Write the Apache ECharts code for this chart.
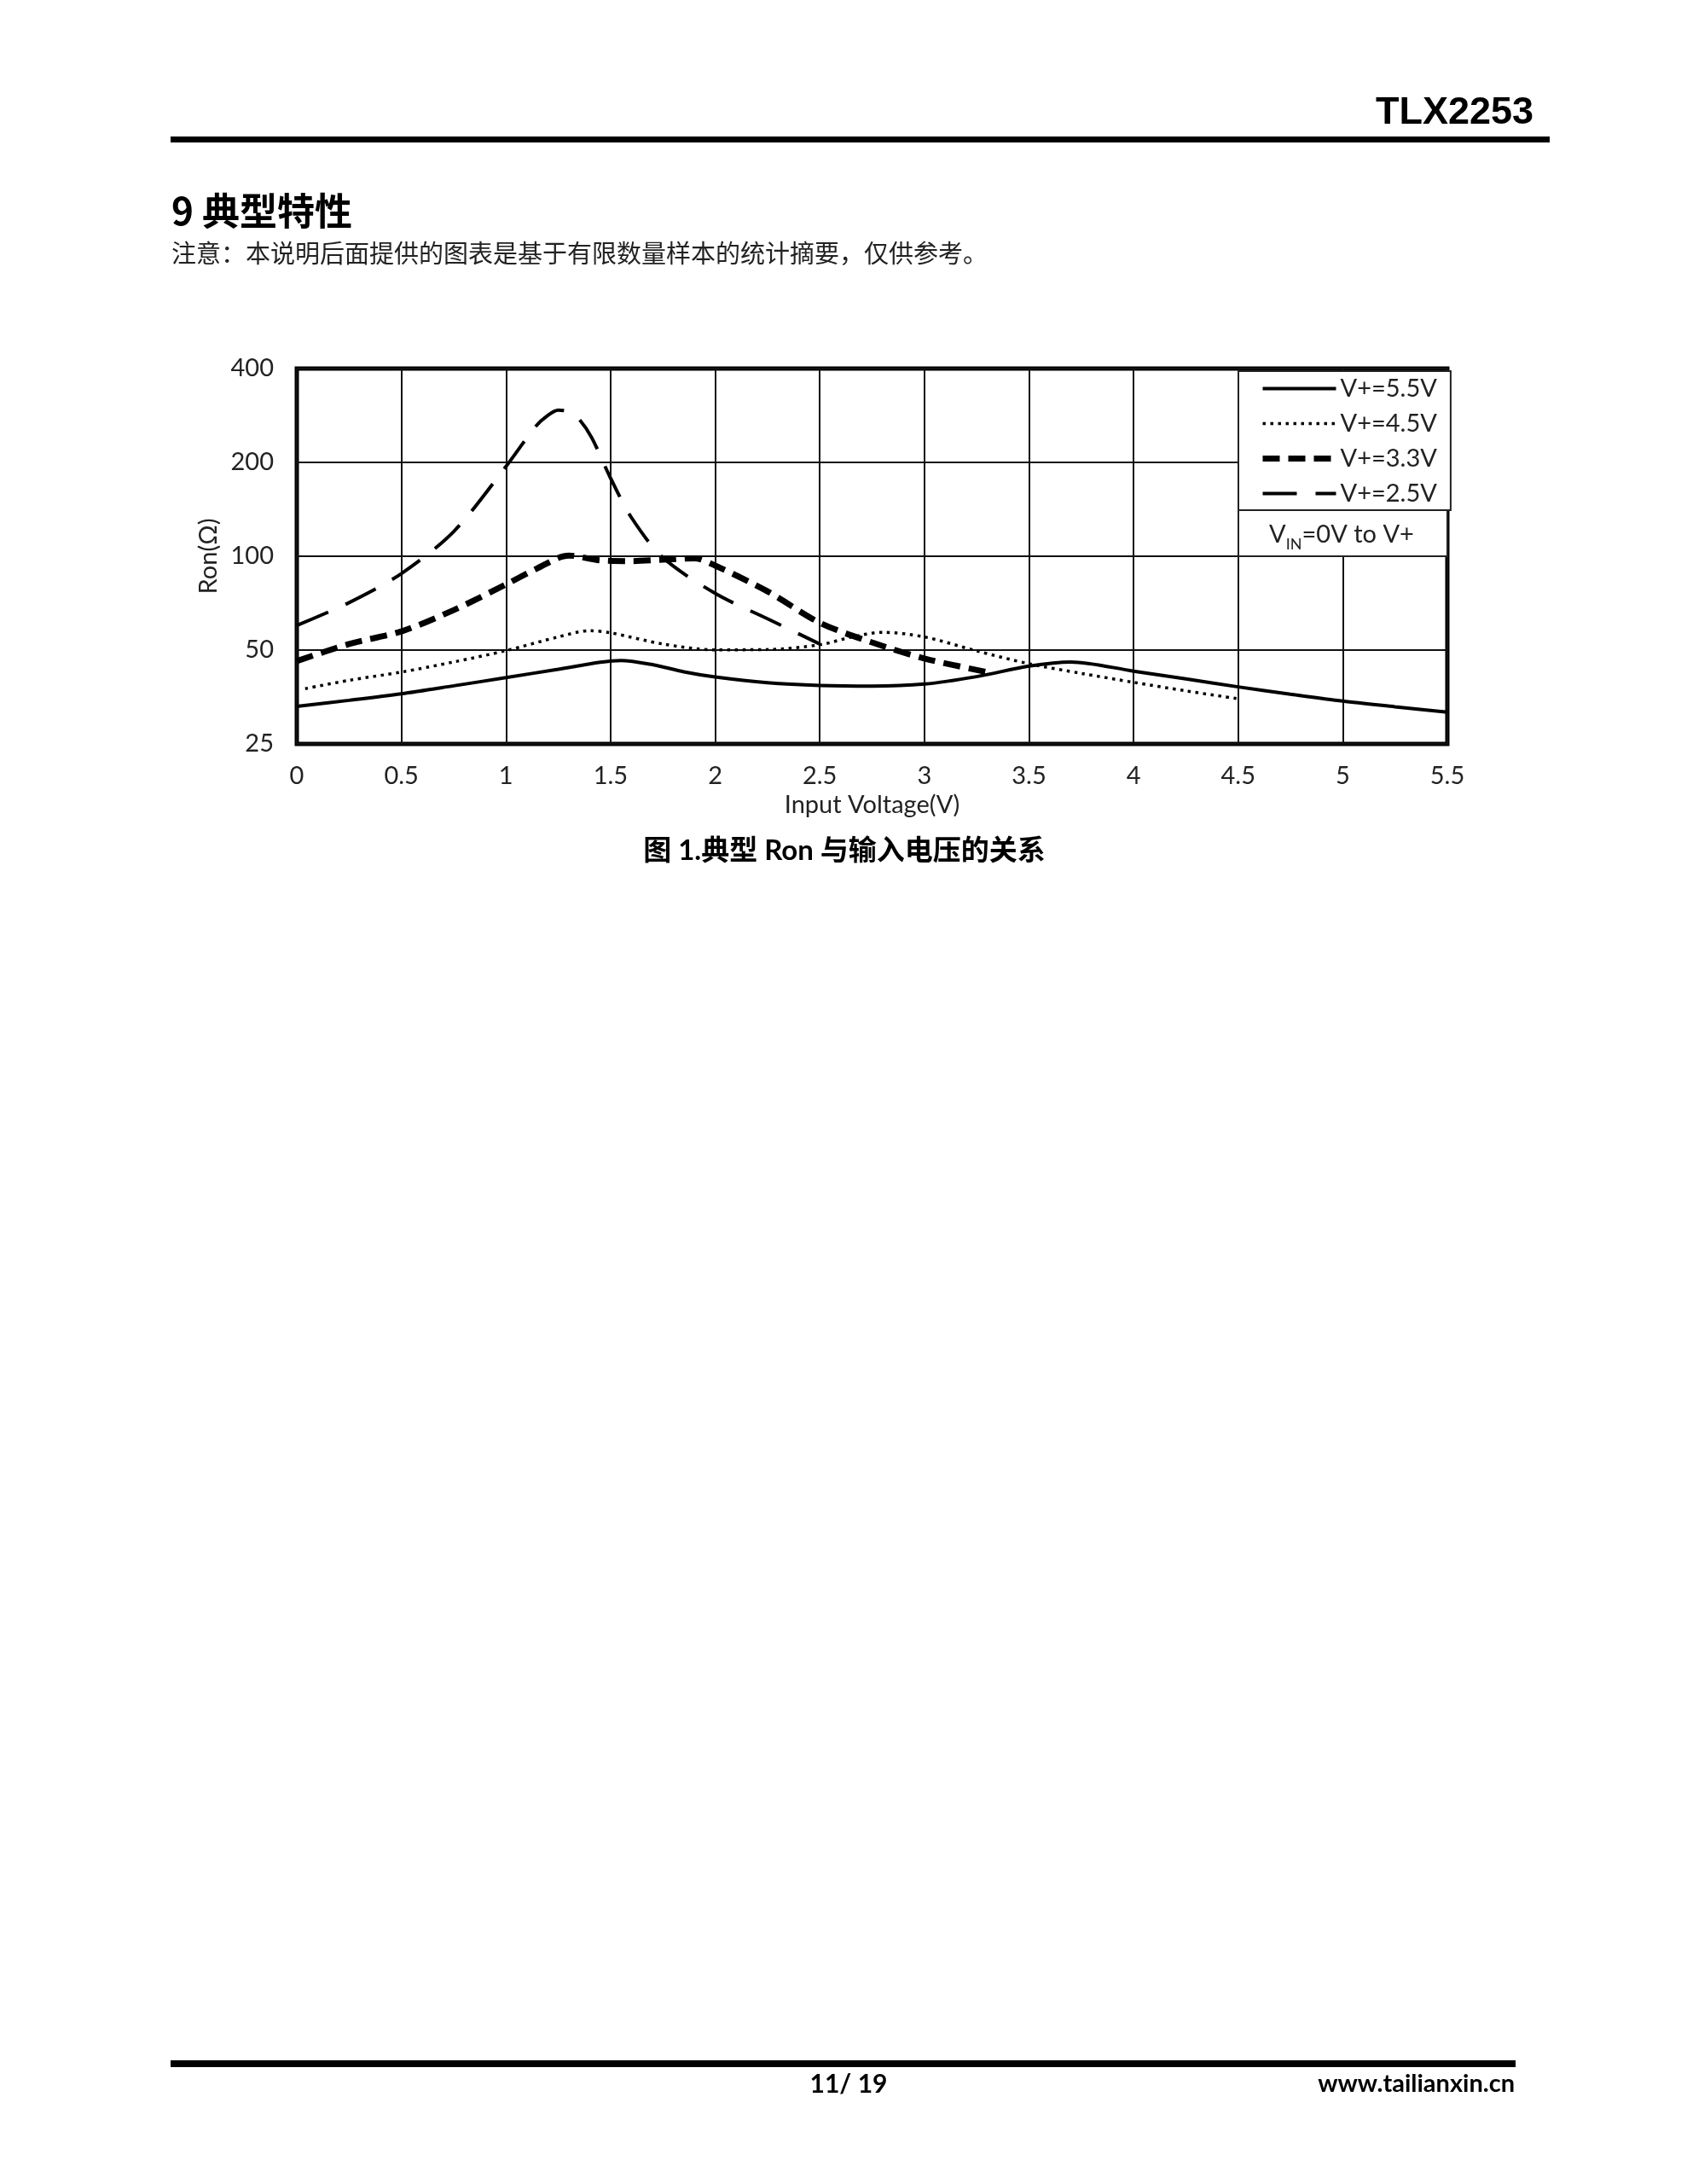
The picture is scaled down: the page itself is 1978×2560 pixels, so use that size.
<!DOCTYPE html>
<html>
<head>
<meta charset="utf-8">
<script src="https://cdn.jsdelivr.net/npm/echarts@6/dist/echarts.min.js"></script>
<style>
html,body{margin:0;padding:0;background:#fff}
#chart{width:1978px;height:2560px}
</style>
</head>
<body>
<div id="chart"></div>
<script>
// ---- data ----
const seriesNames = ['V+=5.5V', 'V+=4.5V', 'V+=3.3V', 'V+=2.5V'];
const yTickValues = [25, 50, 100, 200, 400];
const xMin = 0, xMax = 5.5, xStep = 0.5;

const vin55 = [0, 0.25, 0.5, 0.75, 1, 1.25, 1.45, 1.55, 1.7, 1.85, 2, 2.25, 2.5, 2.75, 3, 3.25, 3.5, 3.7, 4, 4.25, 4.5, 4.75, 5, 5.25, 5.5];
const ron55 = [33.0, 34.5, 36.2, 38.4, 40.8, 43.4, 45.7, 46.3, 44.9, 42.6, 41.0, 39.3, 38.5, 38.3, 38.9, 41.1, 44.4, 45.8, 42.8, 40.4, 38.1, 36.1, 34.3, 32.9, 31.6];

const vin45 = [0.04, 0.25, 0.5, 0.75, 1, 1.25, 1.4, 1.5, 1.75, 2, 2.25, 2.5, 2.65, 2.8, 3, 3.25, 3.5, 3.75, 4, 4.25, 4.5];
const ron45 = [37.6, 40.0, 42.5, 45.8, 49.8, 55.1, 57.7, 56.8, 52.3, 50.1, 50.2, 52.0, 55.0, 57.0, 55.1, 49.7, 45.2, 42.1, 39.4, 37.0, 34.9];

const vin33 = [0, 0.25, 0.5, 0.75, 1, 1.15, 1.3, 1.45, 1.6, 1.75, 1.9, 2, 2.25, 2.5, 2.75, 3, 3.3];
const ron33 = [46.1, 52.3, 57.4, 67.2, 81.2, 91.5, 100.5, 97.0, 96.5, 97.5, 98.5, 93.3, 77.2, 61.2, 52.9, 47.0, 42.5];

const vin25 = [0, 0.25, 0.5, 0.75, 1, 1.14, 1.2, 1.25, 1.3, 1.35, 1.41, 1.5, 1.6, 1.75, 2, 2.25, 2.5];
const ron25 = [60, 71, 88, 120, 194, 260, 283, 294, 291, 275, 240, 178, 133, 99, 76, 63, 52.3];

// log axis base unit (lowest tick)
const Y_UNIT = yTickValues[0];

function pairs(xs, ys) { return xs.map((x, i) => [x, ys[i] / Y_UNIT]); }

const TXT = '#222';
const LATIN = 'Lato, "Noto Sans CJK SC", sans-serif';
const CJK = '"Noto Sans CJK SC", sans-serif';

const lineStyles = [
  { color: '#000', width: 4, type: 'solid' },
  { color: '#000', width: 3.5, type: [3.5, 5.5] },
  { color: '#000', width: 7, type: [20, 10] },
  { color: '#000', width: 4, type: [40, 22] }
];
const datasets = [[vin55, ron55], [vin45, ron45], [vin33, ron33], [vin25, ron25]];

const chart = echarts.init(document.getElementById('chart'), null, { renderer: 'canvas' });

const option = {
  animation: false,
  backgroundColor: '#fff',
  grid: {
    left: 348, right: 281, top: 432, bottom: 1688,
    show: true, borderColor: '#000', borderWidth: 5, backgroundColor: 'transparent'
  },
  xAxis: {
    type: 'value', min: xMin, max: xMax, interval: xStep,
    axisLine: { show: false }, axisTick: { show: false },
    splitLine: { show: true, lineStyle: { color: '#111', width: 2 } },
    axisLabel: { margin: 23, fontSize: 29, fontFamily: LATIN, color: TXT },
    name: 'Input Voltage(V)', nameLocation: 'middle', nameGap: 57,
    nameTextStyle: { fontSize: 29, fontFamily: LATIN, color: TXT }
  },
  yAxis: {
    type: 'log', logBase: 2, min: 1, max: yTickValues[yTickValues.length - 1] / Y_UNIT,
    axisLine: { show: false }, axisTick: { show: false },
    splitLine: { show: true, lineStyle: { color: '#111', width: 2 } },
    axisLabel: {
      margin: 27, fontSize: 29, fontFamily: LATIN, color: TXT,
      formatter: v => String(Math.round(v * Y_UNIT))
    },
    name: 'Ron(Ω)', nameLocation: 'middle', nameGap: 88, nameRotate: 90,
    nameTextStyle: { fontSize: 29, fontFamily: LATIN, color: TXT }
  },
  legend: {
    orient: 'vertical', left: 1452, top: 435,
    itemWidth: 86, itemHeight: 14, itemGap: 12,
    padding: [6, 16, 5, 25],
    backgroundColor: '#fff', borderColor: '#222', borderWidth: 2,
    textStyle: { fontSize: 29, fontFamily: LATIN, color: TXT },
    itemStyle: { opacity: 0 },
    lineStyle: { width: 'inherit', type: 'inherit', color: 'inherit' },
    data: seriesNames
  },
  series: seriesNames.map((name, i) => ({
    name: name, type: 'line', symbol: 'none', showSymbol: false,
    smooth: 0.3,
    lineStyle: { color: lineStyles[i].color, width: lineStyles[i].width, type: lineStyles[i].type, cap: 'butt' },
    itemStyle: { color: '#000' },
    data: pairs(datasets[i][0], datasets[i][1]),
    z: 3
  })),
  graphic: [
    { type: 'text', x: 1798, y: 133, style: { text: 'TLX2253', align: 'right', verticalAlign: 'middle', font: 'bold 45px "Liberation Sans", Arial, sans-serif', fill: '#000' } },
    { type: 'line', shape: { x1: 200, y1: 163.5, x2: 1817, y2: 163.5 }, style: { stroke: '#000', lineWidth: 7 } },
    { type: 'text', x: 201, y: 247, style: { text: '9 典型特性', align: 'left', verticalAlign: 'middle', font: 'bold 44px ' + CJK, fill: '#000' } },
    { type: 'text', x: 201, y: 297, style: { text: '注意：本说明后面提供的图表是基于有限数量样本的统计摘要，仅供参考。', align: 'left', verticalAlign: 'middle', font: '29px ' + CJK, fill: TXT } },
    { type: 'text', x: 990, y: 997, style: { text: '图 1.典型 Ron 与输入电压的关系', align: 'center', verticalAlign: 'middle', font: 'bold 33px ' + LATIN, fill: '#000' } },
    { type: 'rect', z: 10, shape: { x: 1452, y: 598, width: 245, height: 54 }, style: { fill: '#fff', stroke: '#222', lineWidth: 2 } },
    { type: 'text', z: 11, x: 1573, y: 627, style: {
        text: '{v|V}{s|IN}{v|=0V to V+}', align: 'center', verticalAlign: 'middle',
        rich: {
          v: { fontSize: 29, fontFamily: LATIN, fill: TXT, lineHeight: 40, verticalAlign: 'middle' },
          s: { fontSize: 18, fontFamily: LATIN, fill: TXT, lineHeight: 18, verticalAlign: 'bottom' }
        }
    } },
    { type: 'line', shape: { x1: 200, y1: 2419, x2: 1777, y2: 2419 }, style: { stroke: '#000', lineWidth: 8 } },
    { type: 'text', x: 995, y: 2443, style: { text: '11/ 19', align: 'center', verticalAlign: 'middle', font: 'bold 30px ' + LATIN, fill: '#000' } },
    { type: 'text', x: 1776, y: 2443, style: { text: 'www.tailianxin.cn', align: 'right', verticalAlign: 'middle', font: 'bold 29px ' + LATIN, fill: '#000' } }
  ]
};
chart.setOption(option);
</script>
</body>
</html>
